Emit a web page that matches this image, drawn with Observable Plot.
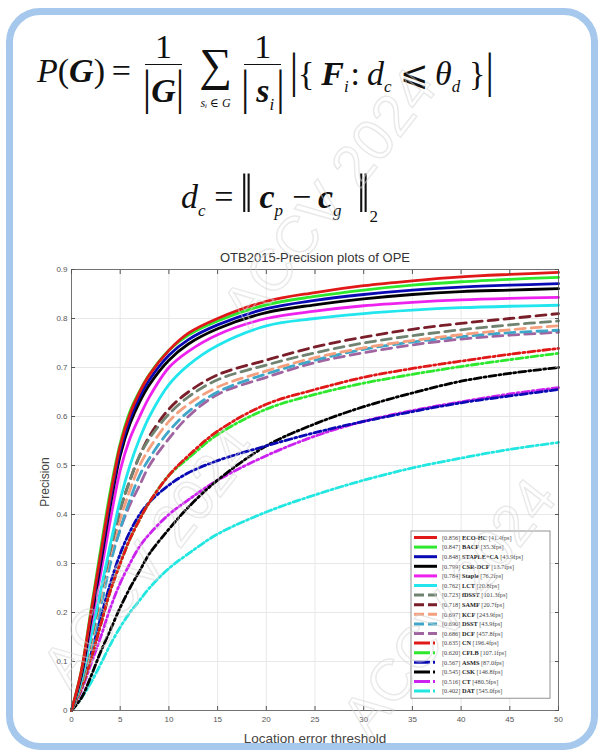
<!DOCTYPE html>
<html>
<head>
<meta charset="utf-8">
<script src="https://cdn.jsdelivr.net/npm/d3@7"></script>
<script src="https://cdn.jsdelivr.net/npm/@observablehq/plot@0.6"></script>
<style>
  body { margin:0; width:602px; height:756px; position:relative; background:#fff; overflow:hidden; }
  #frame { position:absolute; left:6px; top:8px; width:578px; height:728px; border:7px solid #a5c8ec; border-radius:34px; }
  .math { position:absolute; font-family:"Liberation Serif","DejaVu Serif",serif; color:#111; font-size:34px; white-space:nowrap; display:flex; align-items:center; }
  .frac { display:inline-flex; flex-direction:column; align-items:center; margin:0 3px; }
  .frac .num { border-bottom:1.6px solid #111; padding:0 10px; line-height:1.0; text-align:center; }
  .frac .den { line-height:1.1; padding:0 2px; }
  .sum { display:inline-flex; flex-direction:column; align-items:center; margin:0 4px 0 10px; position:relative; top:6px; }
  .sum .sig { font-size:46px; line-height:0.9; }
  .sum .sub { font-size:12px; font-style:italic; line-height:1; margin-top:12px; }
  .sb { font-size:0.5em; position:relative; top:0.45em; margin-right:2px; }
  .bar { font-size:42px; transform:scaleY(1.15); display:inline-block; }
  .dbar { font-size:44px; transform:scaleY(1.25); display:inline-block; }
  #chart { position:absolute; left:0; top:240px; }
  .lbl { position:absolute; font-family:"Liberation Sans",Arial,sans-serif; color:#333; white-space:nowrap; }
  #legend { position:absolute; left:0; top:0; }
  #wm { position:absolute; left:0; top:0; pointer-events:none; }
</style>
</head>
<body>
<div id="frame"></div>

<div class="math" style="left:37px; top:30px;">
  <span><i>P</i>(<b><i>G</i></b>)&thinsp;=&thinsp;</span>
  <span class="frac"><span class="num">1</span><span class="den"><span class="bar">|</span><b><i>G</i></b><span class="bar">|</span></span></span>
  <span class="sum"><span class="sig">∑</span><span class="sub">sᵢ ∈ G</span></span>
  <span class="frac"><span class="num">1</span><span class="den"><span class="bar">|</span>&thinsp;<b><i>s</i></b><span class="sb"><i>i</i></span><span class="bar">|</span></span></span>
  <span><span class="bar">|</span>{&thinsp;<b><i>F</i></b><span class="sb"><i>i</i></span>:&thinsp;<i>d</i><span class="sb"><i>c</i></span>&thinsp;⩽&thinsp;<i>θ</i><span class="sb"><i>d</i></span>&thinsp;}<span class="bar">|</span></span>
</div>
<div class="math" style="left:181px; top:168px;">
  <span><i>d</i><span class="sb"><i>c</i></span>&thinsp;=&thinsp;<span class="dbar">‖</span>&thinsp;<b><i>c</i></b><span class="sb"><i>p</i></span>&thinsp;−&thinsp;<b><i>c</i></b><span class="sb"><i>g</i></span>&thinsp;&thinsp;<span class="dbar">‖</span><span class="sb" style="top:0.8em;">2</span></span>
</div>

<div id="chart"></div>
<div class="lbl" style="left:0; width:630px; text-align:center; top:250px; font-size:13px;">OTB2015-Precision plots of OPE</div>
<div class="lbl" style="left:0; width:630px; text-align:center; top:731px; font-size:13.5px; color:#444;">Location error threshold</div>
<div class="lbl" style="left:45px; top:482px; font-size:12px; color:#444; transform:translate(-50%,-50%) rotate(-90deg); transform-origin:center; position:absolute;">Precision</div>

<script>
// ---- data ----
const thresholds = [0,1,2,3,4,5,6,7,8,10,12,15,20,25,30,35,40,45,50];
const xTicks = [0,5,10,15,20,25,30,35,40,45,50];
const yTicks = [0,0.1,0.2,0.3,0.4,0.5,0.6,0.7,0.8,0.9];

const trackerNames = ["ECO-HC","BACF","STAPLE+CA","CSR-DCF","Staple","LCT","fDSST","SAMF","KCF","DSST","DCF","CN","CFLB","ASMS","CSK","CT","DAT"];
const legendScores = ["0.856","0.847","0.848","0.799","0.784","0.762","0.723","0.718","0.697","0.690","0.686","0.635","0.620","0.567","0.545","0.516","0.402"];
const legendFps = ["41.4fps","35.3fps","43.9fps","13.7fps","76.2fps","20.8fps","101.3fps","20.7fps","243.9fps","43.9fps","457.8fps","196.4fps","107.1fps","87.0fps","146.8fps","480.5fps","545.0fps"];
const lineStyles = ["solid","solid","solid","solid","solid","solid","dash","dash","dash","dash","dash","dashdot","dashdot","dashdot","dashdot","dashdot","dashdot"];
const lineColors = ["#e01818","#2ee82e","#0a0ab4","#000000","#ee22ee","#22e6ee","#6f8370","#7a1f2a","#f4a07e","#3ea6c8","#a064a0","#e01818","#2ee82e","#0a0ab4","#000000","#cc22ee","#22e6e0"];

const ecoHC    = [0,.08,.2,.32,.44,.54,.605,.65,.685,.735,.77,.80,.835,.853,.867,.877,.885,.89,.894];
const bacf     = [0,.08,.205,.33,.45,.545,.61,.652,.686,.735,.766,.795,.828,.845,.858,.868,.875,.88,.884];
const stapleCA = [0,.075,.195,.31,.43,.53,.595,.64,.675,.725,.757,.787,.82,.837,.849,.858,.864,.868,.871];
const csrDCF   = [0,.07,.185,.30,.42,.52,.585,.63,.665,.715,.748,.779,.812,.828,.84,.849,.855,.858,.861];
const staple   = [0,.07,.175,.28,.39,.49,.555,.60,.64,.70,.733,.767,.80,.815,.826,.833,.838,.841,.843];
const lct      = [0,.06,.15,.245,.34,.43,.50,.555,.60,.665,.705,.745,.785,.80,.81,.817,.822,.825,.827];
const fdsst    = [0,.055,.145,.24,.33,.41,.47,.52,.555,.605,.64,.675,.705,.73,.75,.765,.777,.787,.795];
const samf     = [0,.055,.145,.24,.33,.41,.47,.52,.56,.615,.65,.685,.715,.742,.762,.778,.79,.80,.81];
const kcf      = [0,.05,.135,.23,.32,.39,.45,.50,.535,.59,.625,.66,.693,.72,.74,.755,.767,.777,.785];
const dsst     = [0,.05,.125,.21,.30,.37,.43,.48,.515,.57,.61,.65,.687,.715,.737,.752,.763,.771,.776];
const dcf      = [0,.06,.15,.24,.31,.37,.42,.46,.50,.555,.60,.645,.68,.71,.73,.746,.758,.766,.772];
const cn       = [0,.045,.105,.175,.245,.30,.35,.39,.425,.48,.52,.57,.625,.655,.68,.698,.713,.727,.739];
const cflb     = [0,.045,.105,.175,.245,.30,.35,.39,.425,.48,.515,.563,.615,.645,.668,.686,.702,.716,.729];
const asms     = [0,.045,.115,.19,.26,.32,.365,.40,.425,.46,.485,.51,.54,.567,.59,.61,.628,.642,.655];
const csk      = [0,.025,.07,.12,.165,.21,.25,.285,.32,.37,.415,.47,.54,.585,.62,.648,.672,.688,.70];
const ct       = [0,.04,.095,.15,.21,.26,.30,.335,.36,.40,.43,.47,.52,.56,.59,.612,.63,.646,.659];
const dat      = [0,.025,.057,.095,.135,.17,.20,.225,.25,.29,.32,.36,.405,.44,.47,.495,.515,.533,.547];

const seriesValues = [ecoHC,bacf,stapleCA,csrDCF,staple,lct,fdsst,samf,kcf,dsst,dcf,cn,cflb,asms,csk,ct,dat];

// ---- tidy table ----
const rows = [];
trackerNames.forEach((name,i) => {
  seriesValues[i].forEach((v,j) => rows.push({name, style: lineStyles[i], order:i, x: thresholds[j], y: v}));
});

const dashes = {solid: null, dash: "10,6", dashdot: "7,3,2,3"};
const lineMarks = [];
for (let i = trackerNames.length - 1; i >= 0; i--) {
  lineMarks.push(Plot.line(rows.filter(r => r.order === i), {
    x: "x", y: "y", stroke: "name", strokeWidth: 2.8, curve: "catmull-rom",
    strokeDasharray: dashes[lineStyles[i]] ?? undefined
  }));
}

const plot = Plot.plot({
  width: 602, height: 510,
  marginLeft: 71, marginRight: 44, marginTop: 29, marginBottom: 40,
  style: {fontFamily: "Liberation Sans, Arial, sans-serif", fontSize: "8px", color: "#555", background: "transparent"},
  x: {domain: [0, 50]},
  y: {domain: [0, 0.9]},
  color: {domain: trackerNames, range: lineColors},
  marks: [
    Plot.gridX(xTicks, {stroke: "#e8e8e8", strokeOpacity: 1}),
    Plot.gridY(yTicks, {stroke: "#e8e8e8", strokeOpacity: 1}),
    ...lineMarks,
    Plot.frame({stroke: "#555", strokeWidth: 0.8}),
    Plot.axisX(xTicks, {anchor: "bottom", tickSize: -4, tickPadding: 10, stroke: "#555", tickFormat: d => String(d), label: null}),
    Plot.axisX(xTicks, {anchor: "top", tickSize: -4, stroke: "#555", tickFormat: () => "", label: null}),
    Plot.axisY(yTicks, {anchor: "left", tickSize: -4, tickPadding: 8, stroke: "#555", tickFormat: d => d === 0 ? "0" : d3.format(".1f")(d), label: null}),
    Plot.axisY(yTicks, {anchor: "right", tickSize: -4, stroke: "#555", tickFormat: () => "", label: null})
  ]
});
document.getElementById("chart").appendChild(plot);

// ---- legend ----
const lg = d3.select("body").append("svg").attr("id","legend").attr("width",602).attr("height",756);
const lx = 411, ly = 531, lw = 139, rowH = 9.6;
lg.append("rect").attr("x",lx).attr("y",ly).attr("width",lw).attr("height",rowH*trackerNames.length + 4)
  .attr("fill","#fff").attr("stroke","#777").attr("stroke-width",0.8);
trackerNames.forEach((name,i) => {
  const cy = ly + 6.5 + i*rowH;
  lg.append("line").attr("x1",lx+3).attr("x2",lx+26).attr("y1",cy).attr("y2",cy)
    .attr("stroke",lineColors[i]).attr("stroke-width",3)
    .attr("stroke-dasharray", lineStyles[i] === "solid" ? null : (lineStyles[i] === "dash" ? "10,4" : "16,3,2,3"));
  const t = lg.append("text").attr("x",lx+31).attr("y",cy+2.2)
    .attr("font-family","Liberation Serif, serif").attr("font-size",6.3).attr("fill","#444");
  t.append("tspan").text("[" + legendScores[i] + "] ");
  t.append("tspan").attr("font-weight","bold").attr("fill","#222").text(name);
  t.append("tspan").text("  [" + legendFps[i] + "]");
});

// ---- watermark ----
const wm = d3.select("body").append("svg").attr("id","wm").attr("width",602).attr("height",756);
[[70,690],[250,330],[370,740]].forEach(([x,y]) => {
  wm.append("text").attr("x",x).attr("y",y).attr("transform",`rotate(-52,${x},${y})`)
    .attr("font-family","Liberation Sans, sans-serif").attr("font-size",58)
    .attr("fill","none").attr("stroke","#d4d4d4").attr("stroke-width",1.4).attr("opacity",0.5)
    .text("ACCV 2024");
});
</script>
</body>
</html>
